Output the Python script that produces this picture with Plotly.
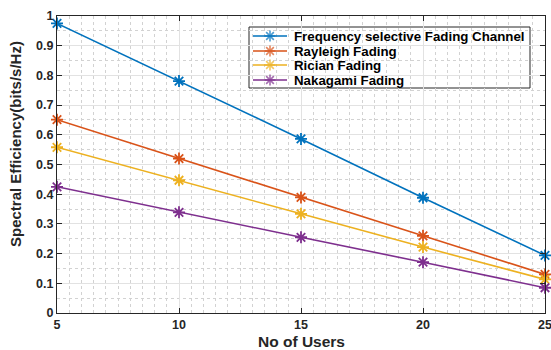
import plotly.graph_objects as go

users = [5, 10, 15, 20, 25]
freq_sel = [0.975, 0.781, 0.586, 0.388, 0.194]
rayleigh = [0.651, 0.52, 0.389, 0.26, 0.13]
rician = [0.558, 0.447, 0.334, 0.222, 0.113]
nakagami = [0.425, 0.339, 0.255, 0.171, 0.085]

names = ["Frequency selective Fading Channel", "Rayleigh Fading", "Rician Fading", "Nakagami Fading"]
values = [freq_sel, rayleigh, rician, nakagami]
colors = ["#0072BD", "#D95319", "#EDB120", "#7E2F8E"]
x_ticks = [5, 10, 15, 20, 25]
y_ticks = [0, 0.1, 0.2, 0.3, 0.4, 0.5, 0.6, 0.7, 0.8, 0.9, 1]
y_ticklabels = ["0", "0.1", "0.2", "0.3", "0.4", "0.5", "0.6", "0.7", "0.8", "0.9", "1"]

FONT = "Liberation Sans, Arial, sans-serif"
TXT = "#262626"

W, H = 551, 350
# plot area in pixels: x 57..545, y 16..313
L, R, T, B = 57, 6, 16, 37
PW, PH = W - L - R, H - T - B

def px(x):  # pixel -> paper
    return (x - L) / PW

def py(y):
    return (H - B - y) / PH

fig = go.Figure()
for name, vals, col in zip(names, values, colors):
    fig.add_trace(go.Scatter(
        x=users, y=vals, name=name, mode="lines+markers", showlegend=False,
        line=dict(color=col, width=1.6),
        marker=dict(symbol="asterisk-open", size=10, color=col,
                    line=dict(color=col, width=1.8)),
        cliponaxis=False,
    ))

# custom legend (compact, like MATLAB)
row_y = [36, 51, 65, 80]
x0, x1, xm, xt = px(253), px(287), px(270), px(292)
annotations = []
for name, col, ry in zip(names, colors, row_y):
    fig.add_trace(go.Scatter(
        x=[x0, xm, x1], y=[py(ry)] * 3, mode="lines+markers", showlegend=False,
        xaxis="x2", yaxis="y2", hoverinfo="skip",
        line=dict(color=col, width=1.6),
        marker=dict(symbol="asterisk-open", size=[0, 9, 0], color=col,
                    line=dict(color=col, width=1.6)),
        cliponaxis=False,
    ))
    annotations.append(dict(
        text=name, x=xt, y=py(ry), xref="paper", yref="paper",
        xanchor="left", yanchor="middle", showarrow=False,
        font=dict(family=FONT, size=13.3, color="#000000", weight="bold"),
    ))

annotations.append(dict(
    text="No of Users", x=0.5, y=py(341), xref="paper", yref="paper",
    xanchor="center", yanchor="middle", showarrow=False,
    font=dict(family=FONT, size=15.5, color=TXT, weight="bold"),
))
annotations.append(dict(
    text="Spectral Efficiency(bits/s/Hz)", x=px(15), y=py(144), xref="paper", yref="paper",
    xanchor="center", yanchor="middle", showarrow=False, textangle=-90,
    font=dict(family=FONT, size=15, color=TXT, weight="bold"),
))

shapes = [dict(
    type="rect", xref="paper", yref="paper",
    x0=px(249), x1=px(530), y0=py(88), y1=py(27),
    fillcolor="white", line=dict(color=TXT, width=1), layer="between",
)]

tickfont = dict(family=FONT, size=12.5, color=TXT, weight="bold")
fig.update_layout(
    width=W, height=H,
    margin=dict(l=L, r=R, t=T, b=B, autoexpand=False),
    paper_bgcolor="white", plot_bgcolor="white",
    font=dict(family=FONT, size=12, color=TXT),
    showlegend=False,
    annotations=annotations,
    shapes=shapes,
    xaxis=dict(
        range=[5, 25], tickvals=x_ticks, ticktext=[str(v) for v in x_ticks],
        showgrid=True, gridcolor="#e2e2e2", gridwidth=1.2,
        minor=dict(dtick=0.5, tick0=5, showgrid=True, gridcolor="#d2d2d2", griddash="dot", gridwidth=1),
        showline=True, linecolor=TXT, linewidth=1.3, mirror="ticks",
        ticks="inside", ticklen=5, tickcolor=TXT, tickfont=tickfont,
        ticklabeloverflow="allow",
        automargin=False, zeroline=False,
    ),
    yaxis=dict(
        range=[0, 1], tickvals=y_ticks, ticktext=y_ticklabels,
        showgrid=True, gridcolor="#e2e2e2", gridwidth=1.2,
        minor=dict(dtick=0.05, tick0=0, showgrid=True, gridcolor="#d2d2d2", griddash="dot", gridwidth=1),
        showline=True, linecolor=TXT, linewidth=1.3, mirror="ticks",
        ticks="inside", ticklen=5, tickcolor=TXT, tickfont=tickfont,
        ticklabeloverflow="allow",
        automargin=False, zeroline=False,
    ),
    xaxis2=dict(overlaying="x", range=[0, 1], visible=False, anchor="y2", fixedrange=True),
    yaxis2=dict(overlaying="y", range=[0, 1], visible=False, anchor="x2", fixedrange=True),
)
fig.write_html(
    "out.html",
    config={"displayModeBar": False},
    post_script="document.body.style.margin='0';document.body.style.overflow='hidden';",
)
